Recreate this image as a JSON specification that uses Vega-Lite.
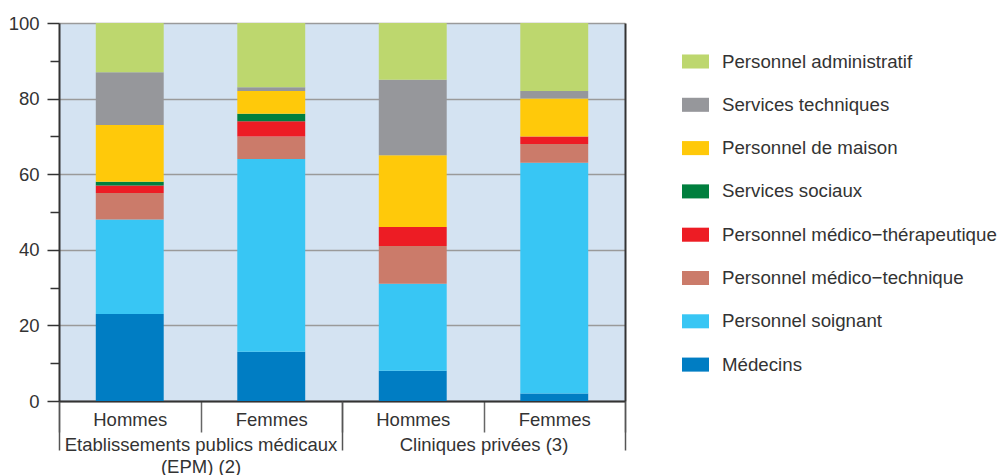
{
  "$schema": "https://vega.github.io/schema/vega-lite/v6.json",
  "autosize": "none",
  "width": 566,
  "height": 378,
  "padding": {"left": 59, "top": 23, "right": 372, "bottom": 74},
  "background": "#ffffff",
  "config": {
    "font": "Liberation Sans",
    "view": {"fill": "#D4E3F2", "stroke": null},
    "axis": {"labelFont": "Liberation Sans", "labelFontSize": 18.5, "labelColor": "#333333", "title": null}
  },
  "layer": [
    {
      "data": {"values": [
        {"key": "EPM|Hommes", "type": "Médecins", "rank": 1, "value": 23},
        {"key": "EPM|Hommes", "type": "Personnel soignant", "rank": 2, "value": 25},
        {"key": "EPM|Hommes", "type": "Personnel médico−technique", "rank": 3, "value": 7},
        {"key": "EPM|Hommes", "type": "Personnel médico−thérapeutique", "rank": 4, "value": 2},
        {"key": "EPM|Hommes", "type": "Services sociaux", "rank": 5, "value": 1},
        {"key": "EPM|Hommes", "type": "Personnel de maison", "rank": 6, "value": 15},
        {"key": "EPM|Hommes", "type": "Services techniques", "rank": 7, "value": 14},
        {"key": "EPM|Hommes", "type": "Personnel administratif", "rank": 8, "value": 13},
        {"key": "EPM|Femmes", "type": "Médecins", "rank": 1, "value": 13},
        {"key": "EPM|Femmes", "type": "Personnel soignant", "rank": 2, "value": 51},
        {"key": "EPM|Femmes", "type": "Personnel médico−technique", "rank": 3, "value": 6},
        {"key": "EPM|Femmes", "type": "Personnel médico−thérapeutique", "rank": 4, "value": 4},
        {"key": "EPM|Femmes", "type": "Services sociaux", "rank": 5, "value": 2},
        {"key": "EPM|Femmes", "type": "Personnel de maison", "rank": 6, "value": 6},
        {"key": "EPM|Femmes", "type": "Services techniques", "rank": 7, "value": 1},
        {"key": "EPM|Femmes", "type": "Personnel administratif", "rank": 8, "value": 17},
        {"key": "CP|Hommes", "type": "Médecins", "rank": 1, "value": 8},
        {"key": "CP|Hommes", "type": "Personnel soignant", "rank": 2, "value": 23},
        {"key": "CP|Hommes", "type": "Personnel médico−technique", "rank": 3, "value": 10},
        {"key": "CP|Hommes", "type": "Personnel médico−thérapeutique", "rank": 4, "value": 5},
        {"key": "CP|Hommes", "type": "Services sociaux", "rank": 5, "value": 0},
        {"key": "CP|Hommes", "type": "Personnel de maison", "rank": 6, "value": 19},
        {"key": "CP|Hommes", "type": "Services techniques", "rank": 7, "value": 20},
        {"key": "CP|Hommes", "type": "Personnel administratif", "rank": 8, "value": 15},
        {"key": "CP|Femmes", "type": "Médecins", "rank": 1, "value": 2},
        {"key": "CP|Femmes", "type": "Personnel soignant", "rank": 2, "value": 61},
        {"key": "CP|Femmes", "type": "Personnel médico−technique", "rank": 3, "value": 5},
        {"key": "CP|Femmes", "type": "Personnel médico−thérapeutique", "rank": 4, "value": 2},
        {"key": "CP|Femmes", "type": "Services sociaux", "rank": 5, "value": 0},
        {"key": "CP|Femmes", "type": "Personnel de maison", "rank": 6, "value": 10},
        {"key": "CP|Femmes", "type": "Services techniques", "rank": 7, "value": 2},
        {"key": "CP|Femmes", "type": "Personnel administratif", "rank": 8, "value": 18}
      ]},
      "mark": {"type": "bar", "width": {"band": 0.48}},
      "encoding": {
        "x": {
          "field": "key", "type": "nominal",
          "sort": ["EPM|Hommes", "EPM|Femmes", "CP|Hommes", "CP|Femmes"],
          "scale": {"paddingInner": 0, "paddingOuter": 0},
          "axis": {
            "orient": "bottom",
            "labelExpr": "indexof(['EPM|Hommes','CP|Hommes'], datum.value) >= 0 ? 'Hommes' : (indexof(['EPM|Femmes','CP|Femmes'], datum.value) >= 0 ? 'Femmes' : '')",
            "labelAngle": 0,
            "tickBand": "extent",
            "tickSize": 31,
            "tickColor": "#666666",
            "tickWidth": 1.5,
            "labelPadding": -22,
            "domainColor": "#333333",
            "domainWidth": 2,
            "grid": false
          }
        },
        "y": {
          "field": "value", "type": "quantitative", "stack": "zero",
          "scale": {"domain": [0, 100], "nice": false},
          "axis": {
            "orient": "left",
            "values": [0, 10, 20, 30, 40, 50, 60, 70, 80, 90, 100],
            "labelExpr": "datum.value % 20 == 0 ? datum.label : ''",
            "tickSize": {"condition": {"test": "datum.value % 20 == 0", "value": 12}, "value": 9},
            "tickColor": "#333333",
            "tickWidth": 1.5,
            "labelPadding": 8,
            "domainColor": "#333333",
            "domainWidth": 2,
            "grid": true,
            "gridColor": "#9a9a9a",
            "gridWidth": 1.3,
            "gridOpacity": {"condition": {"test": "datum.value % 20 == 0", "value": 1}, "value": 0}
          }
        },
        "color": {
          "field": "type", "type": "nominal",
          "scale": {
            "domain": ["Personnel administratif", "Services techniques", "Personnel de maison", "Services sociaux", "Personnel médico−thérapeutique", "Personnel médico−technique", "Personnel soignant", "Médecins"],
            "range": ["#BDD76E", "#96979B", "#FFC90A", "#007F3E", "#ED1C24", "#CB7B6A", "#38C6F4", "#007DC3"]
          },
          "legend": {
            "title": null,
            "orient": "none",
            "legendX": 623,
            "legendY": 25,
            "padding": 0,
            "symbolType": "M-1,-0.52H1V0.52H-1Z",
            "symbolSize": 729,
            "symbolStrokeWidth": 0,
            "symbolOpacity": 1,
            "labelFont": "Liberation Sans",
            "labelFontSize": 18.7,
            "labelColor": "#333333",
            "labelOffset": 13,
            "labelLimit": 400,
            "rowPadding": 19.3
          }
        },
        "order": {"field": "rank", "type": "quantitative", "sort": "ascending"}
      }
    },
    {
      "data": {"values": [
        {"group": "EPM", "v": 100},
        {"group": "CP", "v": 100}
      ]},
      "mark": {"type": "bar", "opacity": 0},
      "encoding": {
        "x": {
          "field": "group", "type": "nominal",
          "sort": ["EPM", "CP"],
          "scale": {"paddingInner": 0, "paddingOuter": 0},
          "axis": {
            "orient": "bottom",
            "labelExpr": "datum.value == 'EPM' ? ['Etablissements publics médicaux', '(EPM) (2)'] : (datum.value == 'CP' ? 'Cliniques privées (3)' : '')",
            "labelAngle": 0,
            "labelLimit": 400,
            "labelLineHeight": 22,
            "tickBand": "extent",
            "tickSize": 49,
            "tickColor": "#555555",
            "tickWidth": 1.5,
            "labelPadding": -15,
            "domain": false,
            "grid": false
          }
        },
        "y": {
          "field": "v", "type": "quantitative",
          "scale": {"domain": [0, 100], "nice": false},
          "axis": {
            "orient": "right",
            "labels": false,
            "ticks": false,
            "grid": false,
            "domain": true,
            "domainColor": "#333333",
            "domainWidth": 2
          }
        }
      }
    }
  ],
  "resolve": {"scale": {"x": "independent", "y": "independent"}}
}
